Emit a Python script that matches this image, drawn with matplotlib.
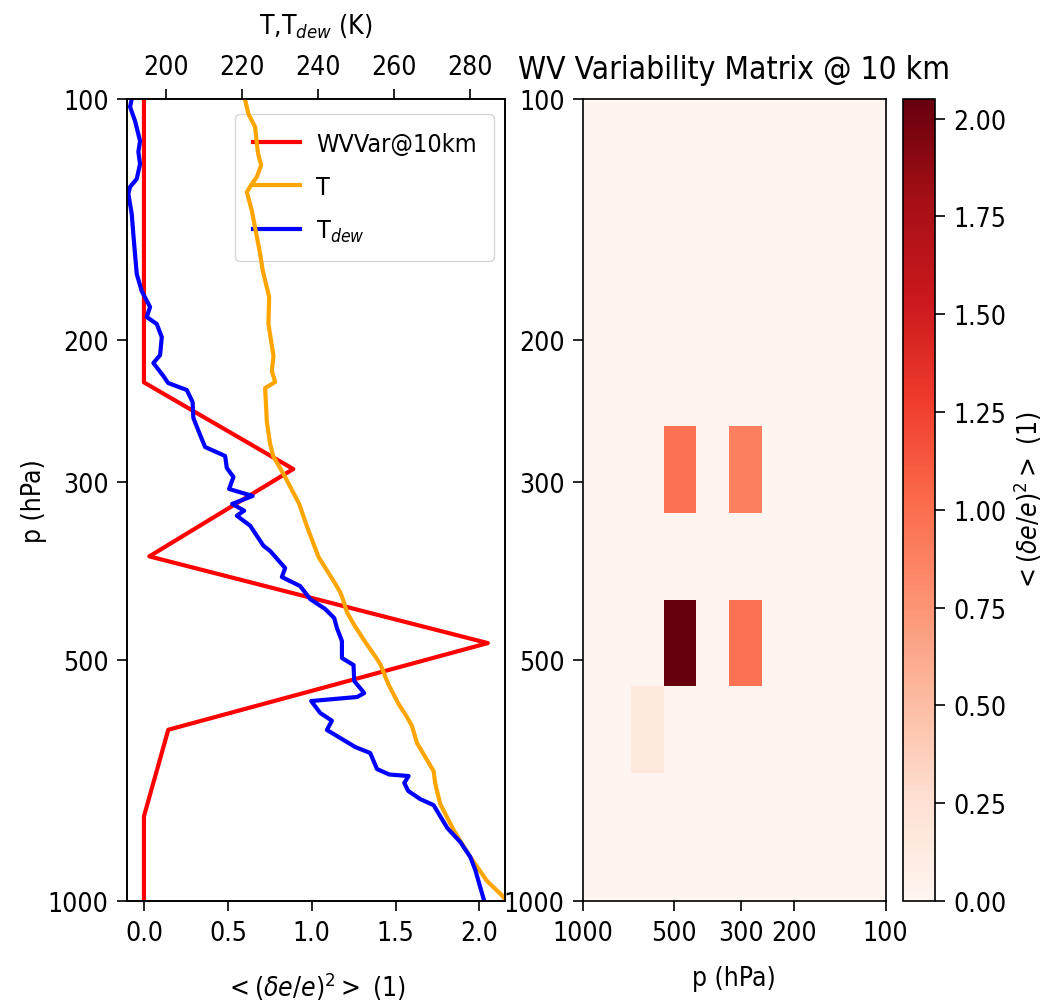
import numpy as np
import matplotlib.pyplot as plt
from matplotlib import font_manager
from matplotlib.ticker import NullLocator

# pressure levels of the water vapour variability profile (hPa)
levels = [83.3, 106.9, 137.1, 175.9, 225.6, 289.3, 371.8, 476.9, 611.6, 784.3, 1006.0]
wv_var = [0.0, 0.0, 0.0, 0.0, 0.0, 0.89, 0.032, 2.05, 0.145, 0.0, 0.0]
# covariance between the 289 hPa and 477 hPa levels
cross_var = 0.97

# dew point profile
p_dew = [100.0, 102.3, 106.5, 112.8, 116.4, 120.5, 125.8, 128.7, 131.3, 139.1,
         147.4, 156.1, 165.3, 173.6, 181.7, 187.0, 190.8, 198.1, 208.6, 213.4,
         221.5, 226.0, 230.6, 238.7, 249.9, 262.4, 271.6, 278.7, 288.5, 296.0,
         306.4, 312.6, 319.8, 326.1, 330.8, 340.4, 360.6, 366.1, 384.5, 394.5,
         404.9, 420.3, 432.5, 443.8, 456.7, 474.1, 497.8, 507.9, 531.7, 550.4,
         556.7, 563.2, 582.9, 595.9, 612.0, 628.1, 642.7, 653.9, 684.6, 695.5,
         698.5, 712.6, 729.2, 746.4, 759.4, 811.0, 844.3, 881.4, 914.9, 994.3, 1000.0]
t_dew = [191.05, 190.61, 191.92, 193.24, 192.79, 193.24, 192.37, 190.61, 190.16, 191.05,
         191.47, 191.92, 192.37, 193.68, 195.87, 195.0, 197.63, 198.95, 198.5, 196.74,
         199.37, 200.61, 205.53, 207.05, 207.26, 209.03, 210.34, 215.61, 216.05, 217.79,
         216.66, 222.84, 217.45, 220.61, 218.68, 222.18, 225.68, 227.45, 231.39, 230.53,
         235.34, 237.97, 241.92, 244.29, 245.0, 246.32, 246.32, 249.37, 249.55, 252.18,
         250.34, 238.24, 240.61, 243.68, 242.37, 246.32, 249.82, 253.76, 255.53, 258.76,
         263.84, 262.71, 263.76, 266.92, 270.42, 274.03, 277.45, 280.08, 281.39, 283.58, 283.7]

# temperature profile
p_temp = [100.3, 104.4, 108.4, 113.8, 117.1, 120.9, 125.1, 127.6, 130.6, 137.8,
          146.9, 156.1, 163.4, 176.6, 190.8, 209.2, 218.3, 225.4, 229.3, 252.8,
          269.3, 278.7, 296.0, 319.8, 341.7, 372.4, 399.0, 411.9, 422.7, 436.3,
          451.3, 471.3, 499.1, 506.4, 536.3, 568.0, 589.6, 605.1, 635.4, 688.6,
          714.6, 757.0, 815.6, 881.4, 944.2, 988.6, 1000.0]
t_temp = [220.87, 221.74, 223.5, 223.95, 224.29, 225.08, 223.95, 222.63, 221.32, 222.63,
          223.76, 224.82, 225.47, 227.18, 227.0, 228.32, 227.89, 228.76, 226.13, 226.58,
          227.45, 228.24, 231.39, 235.08, 237.18, 240.16, 244.11, 245.87, 246.74, 247.63,
          249.37, 251.92, 255.53, 256.39, 258.5, 261.21, 263.42, 264.74, 266.05, 270.42,
          270.87, 272.18, 275.68, 280.08, 284.47, 288.84, 289.29]

p_ticks = [100, 200, 300, 500, 1000]
var_ticks = [0.0, 0.5, 1.0, 1.5, 2.0]
t_ticks = [200, 220, 240, 260, 280]
cbar_ticks = [0.0, 0.25, 0.5, 0.75, 1.0, 1.25, 1.5, 1.75, 2.0]

# use the condensed DejaVu if it is there, the reference text is narrow
cond = [f for f in font_manager.fontManager.ttflist if 'DejaVuSansCondensed.ttf' in f.fname]
if cond:
    plt.rcParams['font.family'] = [cond[0].name]
    plt.rcParams['font.stretch'] = cond[0].stretch
    base = 19
else:
    base = 16.5

plt.rcParams.update({
    'font.size': base,
    'axes.linewidth': 1.2,
    'xtick.major.size': 7.2,
    'ytick.major.size': 7.0,
    'xtick.major.width': 1.2,
    'ytick.major.width': 1.2,
    'xtick.major.pad': 6.5,
    'ytick.major.pad': 6.0,
})

# build the matrix: variances on the diagonal plus one covariance pair
matrix = np.diag(wv_var)
matrix[5, 7] = cross_var
matrix[7, 5] = cross_var

# cell edges half way between levels in log pressure
log_l = np.log10(levels)
mid = (log_l[:-1] + log_l[1:]) / 2
edges = 10 ** np.concatenate([[2 * log_l[0] - mid[0]], mid, [2 * log_l[-1] - mid[-1]]])

fig = plt.figure(figsize=(10.51, 10.04), dpi=100)

# left panel: profiles
ax = fig.add_axes([0.1206, 0.1016, 0.3599, 0.7988])
ax.plot(wv_var, levels, color='red', lw=3.0, label='WVVar@10km')
ax.set_yscale('log')
ax.set_ylim(1000, 100)
ax.set_yticks(p_ticks)
ax.set_yticklabels([str(p) for p in p_ticks])
ax.yaxis.set_minor_locator(NullLocator())
ax.set_xlim(-0.1025, 2.1525)
ax.set_xticks(var_ticks)
ax.set_xticklabels([f'{v:.1f}' for v in var_ticks])
ax.set_xlabel(r'$<(\delta e/e)^2>$ (1)')
ax.xaxis.set_label_coords(0.5, -0.085)
ax.set_ylabel('p (hPa)')
ax.yaxis.set_label_coords(-0.21, 0.5)

ax2 = ax.twiny()
ax2.plot(t_temp, p_temp, color='orange', lw=3.0, label='T')
ax2.plot(t_dew, p_dew, color='blue', lw=3.0, label=r'T$_{dew}$')
ax2.set_xlim(189.74, 289.2)
ax2.set_xticks(t_ticks)
ax2.set_xticklabels([str(t) for t in t_ticks])
ax2.set_xlabel(r'T,T$_{dew}$ (K)')
ax2.xaxis.set_label_coords(0.5, 1.082)
ax2.yaxis.set_minor_locator(NullLocator())

# legend sits on the lower axes so the twin lines are drawn over it
handles = ax.get_lines() + ax2.get_lines()
ax.legend(handles, [h.get_label() for h in handles], loc='upper right',
          bbox_to_anchor=(0.971, 0.981), borderaxespad=0, fontsize=base * 0.95,
          labelspacing=0.75, borderpad=0.7, handletextpad=0.62, handlelength=1.9)

# right panel: variability matrix
ax3 = fig.add_axes([0.5544, 0.1016, 0.2883, 0.7988])
mesh = ax3.pcolormesh(edges, edges, matrix, cmap='Reds', vmin=0, vmax=matrix.max())
ax3.set_xscale('log')
ax3.set_yscale('log')
ax3.set_xlim(1000, 100)
ax3.set_ylim(1000, 100)
ax3.set_xticks(p_ticks)
ax3.set_xticklabels([str(p) for p in p_ticks])
ax3.set_yticks(p_ticks)
ax3.set_yticklabels([str(p) for p in p_ticks])
ax3.xaxis.set_minor_locator(NullLocator())
ax3.yaxis.set_minor_locator(NullLocator())
ax3.set_xlabel('p (hPa)')
ax3.xaxis.set_label_coords(0.5, -0.08)
ax3.set_title('WV Variability Matrix @ 10 km', fontsize=base * 1.2, pad=15)

cax = fig.add_axes([0.8592, 0.1016, 0.0305, 0.7988])
cb = fig.colorbar(mesh, cax=cax)
cb.set_ticks(cbar_ticks)
cb.set_ticklabels([f'{c:.2f}' for c in cbar_ticks])
cb.outline.set_linewidth(1.2)
cb.set_label(r'$<(\delta e/e)^2>$ (1)')

fig.savefig('out.png', dpi=100)
